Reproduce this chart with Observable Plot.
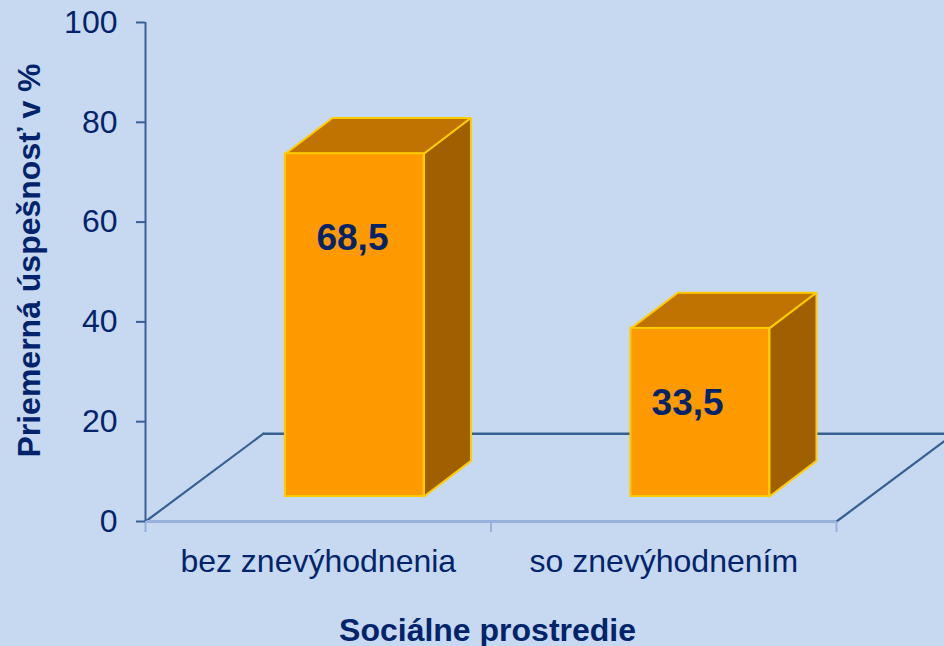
<!DOCTYPE html>
<html lang="sk">
<head>
<meta charset="utf-8">
<script src="https://cdn.jsdelivr.net/npm/d3@7"></script>
<script src="https://cdn.jsdelivr.net/npm/@observablehq/plot@0.6"></script>
<style>
html,body{margin:0;padding:0;background:#C6D9F1;overflow:hidden;width:944px;height:646px}
svg{display:block}
</style>
</head>
<body>
<script>
const categories = ["bez znevýhodnenia", "so znevýhodnením"];
const values = [68.5, 33.5];
const valueLabels = ["68,5", "33,5"];
const yTicks = [0, 20, 40, 60, 80, 100];
const xTicks = [0, 1, 2];
const yTitle = "Priemerná úspešnosť v %";
const xTitle = "Sociálne prostredie";

// pseudo-3D projection, in data units
const lift = 5;           // bars stand this far above the front floor edge
const topLift = 5.2;
const barDepthX = 0.136, barDepthY = 7.15;
const floorDepthX = 0.3415, floorDepthY = 17.6;
const barStart = [0.405, 1.405], barEnd = [0.806, 1.806];
const labelAnchorX = [0.599, 1.569], labelAnchorY = [56.8, 23.8];

const bars = categories.map((c, i) => ({
  c, i, label: valueLabels[i],
  x1: barStart[i], x2: barEnd[i], y1: lift, y2: values[i] + topLift,
  lx: labelAnchorX[i], ly: labelAnchorY[i]
}));
const topFace = bars.flatMap(b => [
  [b.x1, b.y2], [b.x2, b.y2], [b.x2 + barDepthX, b.y2 + barDepthY],
  [b.x1 + barDepthX, b.y2 + barDepthY], [b.x1, b.y2]
].map(([x, y]) => ({x, y, z: b.i})));
const sideFace = bars.flatMap(b => [
  [b.x2, b.y1], [b.x2 + barDepthX, b.y1 + barDepthY], [b.x2 + barDepthX, b.y2 + barDepthY],
  [b.x2, b.y2], [b.x2, b.y1]
].map(([x, y]) => ({x, y, z: b.i})));
const floorBack = [{x: floorDepthX, y: floorDepthY}, {x: 2 + floorDepthX, y: floorDepthY}];
const floorLeft = [{x: 0, y: 0}, {x: floorDepthX, y: floorDepthY}];
const floorRight = [{x: 2, y: 0}, {x: 2 + floorDepthX, y: floorDepthY}];

const ink = "#03246B", axis = "#376092", pale = "#95B1DC", edge = "#FFCC00";
const font = "'Liberation Sans', Arial, sans-serif";

const chart = Plot.plot({
  width: 944, height: 646,
  marginLeft: 145, marginRight: 108, marginTop: 22, marginBottom: 125,
  style: {background: "#C6D9F1", fontFamily: font},
  x: {domain: [0, 2], axis: null},
  y: {domain: [0, 100], axis: null},
  marks: [
    Plot.line(floorBack, {x: "x", y: "y", stroke: axis, strokeWidth: 2.5}),
    Plot.line(floorLeft, {x: "x", y: "y", stroke: axis, strokeWidth: 2.2}),
    Plot.line(floorRight, {x: "x", y: "y", stroke: axis, strokeWidth: 2.2}),
    Plot.axisX({ticks: xTicks, tickFormat: () => "", tickSize: 11, stroke: pale, strokeWidth: 2, strokeOpacity: 1, label: null}),
    Plot.ruleY([0], {stroke: pale, strokeWidth: 3}),
    Plot.ruleX([0], {y1: 0, y2: 100, stroke: axis, strokeWidth: 2}),
    Plot.axisY({ticks: yTicks, tickSize: 9, tickPadding: 19, stroke: axis, strokeWidth: 2, strokeOpacity: 1,
      color: ink, fill: ink, fontSize: 32, label: null}),
    Plot.line(topFace, {x: "x", y: "y", z: "z", fill: "#C07300", stroke: edge, strokeWidth: 2, strokeLinejoin: "miter"}),
    Plot.line(sideFace, {x: "x", y: "y", z: "z", fill: "#A06000", stroke: edge, strokeWidth: 2, strokeLinejoin: "miter"}),
    Plot.rect(bars, {x1: "x1", x2: "x2", y1: "y1", y2: "y2", fill: "#FF9900", stroke: edge, strokeWidth: 2}),
    Plot.text(bars, {x: "lx", y: "ly", text: "label", fill: ink, fontSize: 37, fontWeight: "bold"}),
    Plot.text(categories, {x: (d, i) => i + 0.5, y: () => 0, text: d => d, dy: 40, fill: ink, fontSize: 32}),
    Plot.text([xTitle], {x: () => 0.99, y: () => 0, text: d => d, dy: 109.5, fill: ink, fontSize: 32, fontWeight: "bold"}),
    Plot.text([yTitle], {x: () => 0, y: () => 52.3, text: d => d, rotate: -90, dx: -116, fill: ink, fontSize: 32, fontWeight: "bold"})
  ]
});
document.body.appendChild(chart);
</script>
</body>
</html>
